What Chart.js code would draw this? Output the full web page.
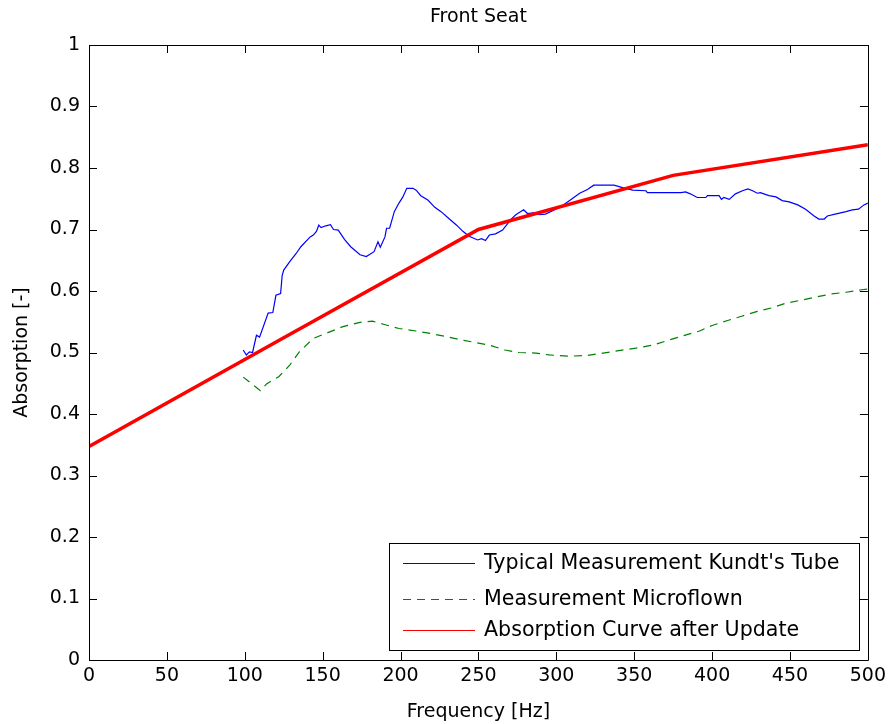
<!DOCTYPE html>
<html>
<head>
<meta charset="utf-8">
<script src="https://cdn.jsdelivr.net/npm/chart.js@4.4.0/dist/chart.umd.min.js"></script>
<style>
html,body{margin:0;padding:0;background:#fff;}
#wrap{width:891px;height:724px;}
</style>
</head>
<body>
<div id="wrap"><canvas id="c" width="891" height="724"></canvas></div>
<script>
const titleText = "Front Seat";
const xTitle = "Frequency [Hz]";
const yTitle = "Absorption [-]";
const seriesNames = ["Typical Measurement Kundt's Tube", "Measurement Microflown", "Absorption Curve after Update"];
const xTickValues = [0,50,100,150,200,250,300,350,400,450,500];
const yTickValues = [0,0.1,0.2,0.3,0.4,0.5,0.6,0.7,0.8,0.9,1];

const kundtFreq = [99,101,103,105,107.5,109.5,115,118,120,123,124,125,129,133,136,142,144,146,147.5,149,152,155,157,160,164,168,174,178,183,185.5,187,190,191,193,196,199,201.5,204,208,210,213,217.5,222,226,231,236,240,244,249.5,252,254.5,257,261,265.5,268,271,274,277,279,281.5,285,289,293,299,304,309,315,320,324,337,342.5,349,357.5,358.5,380,383,386,390.5,396,397,404.5,406,407.5,411,415,419.5,423,426,429,431,436.5,441,445,449.5,455,460,465.5,468.5,472,474,479,486,490,494,497.5,500];
const kundtAbs = [0.504,0.496,0.501,0.500,0.528,0.525,0.564,0.565,0.593,0.596,0.625,0.634,0.648,0.661,0.672,0.688,0.691,0.697,0.707,0.703,0.706,0.708,0.700,0.699,0.684,0.672,0.659,0.656,0.664,0.680,0.671,0.688,0.702,0.702,0.729,0.743,0.753,0.767,0.767,0.764,0.755,0.748,0.736,0.729,0.718,0.707,0.697,0.689,0.683,0.685,0.682,0.691,0.693,0.699,0.707,0.717,0.724,0.729,0.732,0.726,0.727,0.724,0.725,0.732,0.739,0.748,0.759,0.765,0.772,0.772,0.768,0.764,0.763,0.760,0.760,0.761,0.758,0.752,0.752,0.755,0.755,0.749,0.752,0.749,0.758,0.763,0.766,0.763,0.759,0.760,0.755,0.753,0.747,0.745,0.740,0.733,0.722,0.717,0.717,0.722,0.725,0.729,0.732,0.733,0.740,0.743];

const microFreq = [99,110,114,122,129,135,144,152,163,174,182,189,199,210,219,229,240,248.5,257,267,276,287,295.5,308,319,330,340,351,362,372,381,392,400,410,419,428,439,447,457,466.5,476,486,496,500];
const microAbs = [0.460,0.438,0.449,0.461,0.480,0.501,0.523,0.531,0.542,0.549,0.551,0.546,0.539,0.535,0.531,0.526,0.520,0.516,0.512,0.504,0.500,0.499,0.496,0.494,0.495,0.499,0.503,0.507,0.512,0.520,0.527,0.535,0.544,0.552,0.559,0.566,0.573,0.580,0.585,0.590,0.595,0.598,0.602,0.603];

const updateFreq = [0,125,250,375,500];
const updateAbs = [0.347,0.524,0.700,0.788,0.838];

const FONT = "'DejaVu Sans', sans-serif";
const toXY = (xs, ys) => xs.map((x, i) => ({x: x, y: ys[i]}));

const boxPlugin = {
  id: 'boxTicks',
  afterDatasetsDraw(chart) {
    const ctx = chart.ctx, a = chart.chartArea;
    const xs = chart.scales.x, ys = chart.scales.y;
    const L = 8;
    ctx.save();
    ctx.strokeStyle = '#000';
    ctx.lineWidth = 1;
    ctx.beginPath();
    ctx.rect(Math.round(a.left) + 0.5, Math.round(a.top) + 0.5, Math.round(a.right - a.left), Math.round(a.bottom - a.top));
    ctx.stroke();
    ctx.beginPath();
    xTickValues.forEach(v => {
      const px = Math.round(xs.getPixelForValue(v)) + 0.5;
      ctx.moveTo(px, a.bottom); ctx.lineTo(px, a.bottom - L);
      ctx.moveTo(px, a.top); ctx.lineTo(px, a.top + L);
    });
    yTickValues.forEach(v => {
      const py = Math.round(ys.getPixelForValue(v)) + 0.5;
      ctx.moveTo(a.left, py); ctx.lineTo(a.left + L, py);
      ctx.moveTo(a.right, py); ctx.lineTo(a.right - L, py);
    });
    ctx.stroke();
    ctx.restore();
  },
  afterDraw(chart) {
    const ctx = chart.ctx, a = chart.chartArea;
    ctx.save();
    // title centred over the axes
    ctx.fillStyle = '#000';
    ctx.font = '19px ' + FONT;
    ctx.textAlign = 'center';
    ctx.textBaseline = 'middle';
    ctx.fillText(titleText, (a.left + a.right) / 2, 17);
    // legend
    const bx = 389.5, by = 543.5, bw = 470, bh = 107;
    ctx.fillStyle = '#fff';
    ctx.fillRect(bx, by, bw, bh);
    ctx.strokeStyle = '#000';
    ctx.lineWidth = 1;
    ctx.strokeRect(bx, by, bw, bh);
    const rows = [563, 599, 630];
    ctx.font = '20.6px ' + FONT;
    ctx.textBaseline = 'middle';
    ctx.textAlign = 'left';
    chart.data.datasets.forEach((ds, i) => {
      const y = rows[i] + 0.5;
      ctx.strokeStyle = ds.borderColor;
      ctx.lineWidth = 1;
      ctx.setLineDash(ds.borderDash || []);
      ctx.beginPath();
      ctx.moveTo(403, y); ctx.lineTo(475, y);
      ctx.stroke();
      ctx.setLineDash([]);
      ctx.fillStyle = '#000';
      ctx.fillText(ds.label, 484, rows[i] + 1);
    });
    ctx.restore();
  }
};

new Chart(document.getElementById('c'), {
  type: 'line',
  data: {
    datasets: [
      {label: seriesNames[0], data: toXY(kundtFreq, kundtAbs), borderColor: '#0000ff', borderWidth: 1.2, pointRadius: 0, tension: 0, fill: false, order: 1},
      {label: seriesNames[1], data: toXY(microFreq, microAbs), borderColor: '#008000', borderWidth: 1.2, borderDash: [8, 6], pointRadius: 0, tension: 0, fill: false, order: 2},
      {label: seriesNames[2], data: toXY(updateFreq, updateAbs), borderColor: '#ff0000', borderWidth: 3.5, pointRadius: 0, tension: 0, fill: false, order: 0}
    ]
  },
  options: {
    responsive: false,
    animation: false,
    devicePixelRatio: 1,
    layout: {padding: {right: 22, top: 45, left: 0, bottom: 0}},
    plugins: {
      legend: {display: false},
      tooltip: {enabled: false},
      title: {display: false}
    },
    scales: {
      x: {
        type: 'linear', min: 0, max: 500,
        afterBuildTicks: s => { s.ticks = xTickValues.map(v => ({value: v})); },
        afterFit: s => { s.height = 64; },
        grid: {display: false, drawTicks: false},
        border: {display: false},
        ticks: {color: '#000', font: {family: FONT, size: 19}, padding: 5, maxRotation: 0, autoSkip: false},
        title: {display: true, text: xTitle, color: '#000', font: {family: FONT, size: 19}, padding: {top: 0, bottom: 1}}
      },
      y: {
        type: 'linear', min: 0, max: 1,
        afterBuildTicks: s => { s.ticks = yTickValues.map(v => ({value: v})); },
        afterFit: s => { s.width = 89; },
        grid: {display: false, drawTicks: false},
        border: {display: false},
        ticks: {color: '#000', font: {family: FONT, size: 19}, padding: 9, autoSkip: false, callback: v => String(+v.toFixed(1))},
        title: {display: true, text: yTitle, color: '#000', font: {family: FONT, size: 19}, padding: {top: 11, bottom: 0}}
      }
    }
  },
  plugins: [boxPlugin]
});
</script>
</body>
</html>
